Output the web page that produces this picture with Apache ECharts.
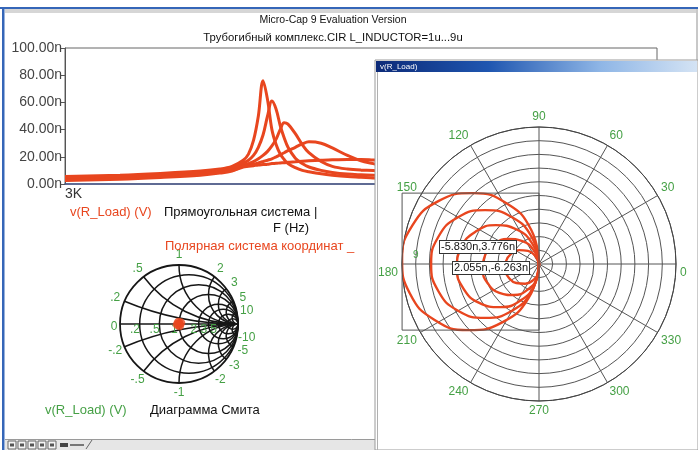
<!DOCTYPE html>
<html><head><meta charset="utf-8"><title>Micro-Cap 9</title>
<script src="https://cdn.jsdelivr.net/npm/echarts@6/dist/echarts.min.js"></script>
<style>html,body{margin:0;padding:0;background:#fff;}#chart{width:698px;height:450px;}</style>
</head><body><div id="chart"></div>
<script>
// ---------------- data ----------------
const freqHz = [3000, 4600, 6300, 8600, 10000, 11000, 12000, 12500, 13000, 13500, 14000, 14500, 15000, 15500, 16000, 16500, 17000, 18000, 19000, 20000, 22000, 24000, 27000, 30000, 33000, 38000, 45000];
const seriesNames = ['L=1u', 'L=3u', 'L=5u', 'L=7u', 'L=9u'];
const vL1 = [5.5, 6.5, 7.8, 9.5, 11, 13, 17.5, 22, 32, 50, 76, 62, 40, 29, 22, 18, 15, 12, 10, 9, 7.5, 6.5, 5.5, 5, 4.5, 4, 3.5];
const vL3 = [4.8, 5.8, 7, 8.8, 10.3, 12, 15.5, 17.5, 21, 27, 36, 50, 61, 55, 43, 34, 27, 19, 15, 12.5, 10, 8.5, 7.3, 6.8, 6.5, 5.5, 4.8];
const vL5 = [4, 5, 6.2, 8, 9.5, 11, 14, 15, 16.5, 18.5, 21, 24, 28, 33, 40, 45, 44, 37, 29, 23, 16.5, 13, 11, 10.2, 10, 8.5, 7];
const vL7 = [3.2, 4.2, 5.5, 7.2, 8.7, 10, 13, 13.5, 14.5, 15.5, 16.5, 17.5, 18.5, 20, 21.5, 23, 24.5, 27, 29.5, 31, 30, 26.5, 21, 17, 15, 12, 9];
const vL9 = [2.5, 3.5, 4.8, 6.5, 8, 9.5, 12.5, 13, 13.5, 14, 14.3, 14.6, 15, 15.2, 15.5, 15.7, 16, 16.4, 16.8, 17.1, 17.5, 17.8, 18, 18, 17.6, 17, 16];

// polar curves: [radius (n), angle (deg)]
const polarC1 = [[0, 88], [20.7, 103], [40, 118], [56.6, 133], [69.3, 148], [77.3, 163], [80, 178], [77.3, 193], [69.3, 208], [56.6, 223], [40, 238], [20.7, 253], [0, 268]];
const polarC2 = [[0, 90], [16.3, 105], [31.5, 120], [44.5, 135], [54.6, 150], [60.9, 165], [63, 180], [60.9, 195], [54.6, 210], [44.5, 225], [31.5, 240], [16.3, 255], [0, 270]];
const polarC3 = [[0, 93], [12.4, 108], [24, 123], [33.9, 138], [41.6, 153], [46.4, 168], [48, 183], [46.4, 198], [41.6, 213], [33.9, 228], [24, 243], [12.4, 258], [0, 273]];
const polarC4 = [[0, 96], [8.5, 111], [16.5, 126], [23.3, 141], [28.6, 156], [31.9, 171], [33, 186], [31.9, 201], [28.6, 216], [23.3, 231], [16.5, 246], [8.5, 261], [0, 276]];
const polarC5 = [[0, 100], [5.2, 115], [10, 130], [14.1, 145], [17.3, 160], [19.3, 175], [20, 190], [19.3, 205], [17.3, 220], [14.1, 235], [10, 250], [5.2, 265], [0, 280]];
const polarCurves = [polarC1, polarC2, polarC3, polarC4, polarC5];
const cursorLabels = ['-5.830n,3.776n', '2.055n,-6.263n'];

// smith chart
const smithPoints = [[0, 0], [0.03, 0.02], [-0.03, -0.01], [0.01, -0.03], [-0.01, 0.03]];
const smithR = [0, 0.2, 0.5, 1, 2, 3, 5, 10];
const smithRLabels = ['0', '.2', '.5', '1', '2', '3', '5'];
const smithX = [0.2, 0.5, 1, 2, 3, 5, 10];
const smithXLabels = ['.2', '.5', '1', '2', '3', '5', '10'];

// ---------------- chart ----------------
const FONT = '"Liberation Sans", Arial, sans-serif';
const RED = '#e8461f';
const GREEN = '#45a045';
const chart = echarts.init(document.getElementById('chart'));

const lineSeries = [vL1, vL3, vL5, vL7, vL9].map((vals, i) => ({
  type: 'line', name: seriesNames[i], xAxisIndex: 0, yAxisIndex: 0,
  data: freqHz.map((f, j) => [f, vals[j]]),
  showSymbol: false, smooth: 0.35, lineStyle: { color: RED, width: 3 }, z: 2
}));
const polarSeries = polarCurves.map((c, i) => ({
  type: 'line', name: seriesNames[i] + ' polar', coordinateSystem: 'polar', polarIndex: 0,
  data: c, showSymbol: false, smooth: 0.5, lineStyle: { color: RED, width: 2.4 }, z: 12
}));
const smithSeries = {
  type: 'scatter', name: 'smith', xAxisIndex: 1, yAxisIndex: 1, data: smithPoints,
  symbolSize: 9, itemStyle: { color: RED }, z: 10
};

chart.setOption({
  animation: false,
  backgroundColor: '#ffffff',
  textStyle: { fontFamily: FONT },
  grid: [
    { left: 65, top: 48, right: 41, bottom: 266, show: true, borderColor: '#666', borderWidth: 1, backgroundColor: 'transparent' },
    { left: 120, top: 265, width: 118, height: 118, show: false }
  ],
  xAxis: [
    { type: 'log', gridIndex: 0, min: 3000, max: 300000, logBase: 10,
      axisLine: { lineStyle: { color: '#44548a', width: 1.5 } }, axisTick: { show: false }, splitLine: { show: false },
      axisLabel: { showMinLabel: true, showMaxLabel: false, formatter: v => (Math.abs(v - 3000) < 1 ? '3K' : ''), align: 'left', margin: 3, fontSize: 14, color: '#333', fontFamily: FONT } },
    { type: 'value', gridIndex: 1, min: -1, max: 1, show: false }
  ],
  yAxis: [
    { type: 'value', gridIndex: 0, min: 0, max: 100, interval: 20,
      axisLine: { show: true, lineStyle: { color: '#555' } }, axisTick: { show: true, length: 4, lineStyle: { color: '#555' } },
      splitLine: { show: false },
      axisLabel: { formatter: v => v.toFixed(2) + 'n', fontSize: 14, color: '#444', margin: 3, fontFamily: FONT } },
    { type: 'value', gridIndex: 1, min: -1, max: 1, show: false }
  ],
  polar: { center: [539, 264], radius: 137 },
  angleAxis: {
    type: 'value', min: 0, max: 360, interval: 30, startAngle: 0, clockwise: false, z: 11,
    axisLine: { lineStyle: { color: '#444', width: 1 } }, axisTick: { show: false },
    axisLabel: { color: GREEN, fontSize: 12, margin: 4, fontFamily: FONT,
      formatter: v => (v >= 360 ? '' : (v === 0 || v === 180) ? '{low|' + v + '}' : String(v)),
      rich: { low: { color: GREEN, fontSize: 12, fontFamily: FONT, padding: [18, 0, 0, 0] } } },
    splitLine: { show: true, lineStyle: { color: '#555', width: 1 } }
  },
  radiusAxis: {
    type: 'value', min: 0, max: 80, interval: 8, z: 11,
    axisLine: { show: false }, axisTick: { show: false }, axisLabel: { show: false },
    splitLine: { show: true, lineStyle: { color: '#555', width: 1 } }
  },
  series: [...lineSeries, ...polarSeries, smithSeries]
});

// ---------------- graphics ----------------
const g = [];
function txt(text, x, y, opts) {
  opts = opts || {};
  g.push({ type: 'text', z: opts.z || 20, silent: true, style: Object.assign({
    text: text, x: x, y: y, fill: opts.fill || '#111', font: (opts.size || 12) + 'px ' + FONT,
    align: opts.align || 'left', textAlign: opts.align || 'left',
    verticalAlign: 'middle', textVerticalAlign: 'middle'
  }, opts.extra || {}) });
}
// outer frame
g.push({ type: 'rect', z: 1, silent: true, shape: { x: 0, y: 7, width: 698, height: 2 }, style: { fill: '#3566b8' } });
g.push({ type: 'rect', z: 1, silent: true, shape: { x: 5, y: 9, width: 693, height: 4 }, style: { fill: '#d6d6d6' } });
g.push({ type: 'rect', z: 1, silent: true, shape: { x: 2, y: 7, width: 2.5, height: 443 }, style: { fill: '#3566b8' } });
g.push({ type: 'rect', z: 1, silent: true, shape: { x: 696, y: 9, width: 2, height: 441 }, style: { fill: '#c8c8c8' } });
// bottom toolbar
g.push({ type: 'rect', z: 1, silent: true, shape: { x: 5, y: 439, width: 693, height: 11 }, style: { fill: '#e6e6e6' } });
g.push({ type: 'line', z: 1, silent: true, shape: { x1: 5, y1: 439.5, x2: 698, y2: 439.5 }, style: { stroke: '#9a9a9a', lineWidth: 1 } });
for (let i = 0; i < 5; i++) {
  g.push({ type: 'rect', z: 1, silent: true, shape: { x: 8 + i * 10, y: 441, width: 8, height: 8 }, style: { fill: '#f4f4f4', stroke: '#666', lineWidth: 1 } });
  g.push({ type: 'rect', z: 1, silent: true, shape: { x: 10 + i * 10, y: 443.5, width: 4, height: 3 }, style: { fill: '#555' } });
}
g.push({ type: 'rect', z: 1, silent: true, shape: { x: 60, y: 443, width: 8, height: 4 }, style: { fill: '#444' } });
g.push({ type: 'rect', z: 1, silent: true, shape: { x: 70, y: 444, width: 14, height: 2 }, style: { fill: '#777' } });
g.push({ type: 'line', z: 1, silent: true, shape: { x1: 86, y1: 449, x2: 92, y2: 440 }, style: { stroke: '#666', lineWidth: 1 } });

// titles & left labels
txt('Micro-Cap 9 Evaluation Version', 333, 20, { align: 'center', size: 10.5 });
txt('Трубогибный комплекс.CIR L_INDUCTOR=1u...9u', 333, 38, { align: 'center', size: 11.3 });
txt('v(R_Load) (V)', 70, 212, { fill: RED, size: 13 });
txt('Прямоугольная система |', 164, 212, { size: 13 });
txt('F (Hz)', 273, 228, { size: 13 });
txt('Полярная система координат _', 165, 246, { fill: RED, size: 13 });
txt('v(R_Load) (V)', 45, 410, { fill: GREEN, size: 13 });
txt('Диаграмма Смита', 150, 410, { size: 13 });

// polar window
g.push({ type: 'rect', z: 5, silent: true, shape: { x: 375, y: 60, width: 323, height: 390 }, style: { fill: '#ffffff', stroke: '#9a9a9a', lineWidth: 1 } });
g.push({ type: 'rect', z: 6, silent: true, shape: { x: 376, y: 61, width: 321, height: 11 },
  style: { fill: new echarts.graphic.LinearGradient(0, 0, 1, 0, [
    { offset: 0, color: '#0c2a78' }, { offset: 0.35, color: '#1f56b0' }, { offset: 0.7, color: '#8fb6e6' }, { offset: 1, color: '#d4e3f4' }]) } });
g.push({ type: 'line', z: 6, silent: true, shape: { x1: 377.5, y1: 72, x2: 377.5, y2: 450 }, style: { stroke: '#b0b0b0', lineWidth: 1 } });
txt('v(R_Load)', 380, 66.5, { fill: '#ffffff', size: 8, z: 7 });

// smith chart grid
const sp = (x, y) => chart.convertToPixel({ xAxisIndex: 1, yAxisIndex: 1 }, [x, y]);
const c0 = sp(0, 0);
const unit = sp(1, 0)[0] - c0[0];
const SK = '#161616';
const SW = 1.5;
smithR.forEach(r => {
  const c = sp(r / (1 + r), 0);
  g.push({ type: 'circle', z: 3, silent: true, shape: { cx: c[0], cy: c[1], r: unit / (1 + r) }, style: { fill: 'none', stroke: SK, lineWidth: r === 0 ? 1.8 : SW } });
});
const a1 = sp(-1, 0), a2 = sp(1, 0);
g.push({ type: 'line', z: 3, silent: true, shape: { x1: a1[0], y1: a1[1], x2: a2[0], y2: a2[1] }, style: { stroke: SK, lineWidth: SW } });
smithX.forEach((x, i) => {
  const c = sp(1, 1 / x), R = unit / x;
  const ex = (x * x - 1) / (x * x + 1), ey = 2 * x / (x * x + 1);
  const e = sp(ex, ey);
  let a = Math.atan2(e[1] - c[1], e[0] - c[0]);
  if (a < Math.PI / 2) a += 2 * Math.PI;
  g.push({ type: 'arc', z: 3, silent: true, shape: { cx: c[0], cy: c[1], r: R, startAngle: Math.PI / 2, endAngle: a, clockwise: true }, style: { fill: 'none', stroke: SK, lineWidth: SW } });
  const c2 = sp(1, -1 / x);
  g.push({ type: 'arc', z: 3, silent: true, shape: { cx: c2[0], cy: c2[1], r: R, startAngle: 2 * Math.PI - a, endAngle: 1.5 * Math.PI, clockwise: true }, style: { fill: 'none', stroke: SK, lineWidth: SW } });
  const k = 1.17;
  const lp = sp(ex * k, ey * k), ln = sp(ex * k, -ey * k);
  txt(smithXLabels[i], lp[0], lp[1], { fill: GREEN, size: 12, align: 'center', z: 4 });
  txt('-' + smithXLabels[i], ln[0], ln[1], { fill: GREEN, size: 12, align: 'center', z: 4 });
});
smithRLabels.forEach((lab, i) => {
  const r = smithR[i];
  const xc = (r - 1) / (r + 1);
  const p = r === 0 ? sp(-1.1, -0.05) : sp(xc - 0.08, -0.1);
  txt(lab, p[0], p[1], { fill: GREEN, size: 12, align: 'center', z: 4 });
});

// polar annotations: bounding box of data and cursor readouts
const pp = (x, y) => {
  const r = Math.hypot(x, y);
  const ang = (Math.atan2(y, x) * 180 / Math.PI + 360) % 360;
  return chart.convertToPixel({ polarIndex: 0 }, [r, ang]);
};
let minX = Infinity, maxX = -Infinity, minY = Infinity, maxY = -Infinity;
polarCurves.forEach(c => c.forEach(([r, a]) => {
  const t = a * Math.PI / 180, x = r * Math.cos(t), y = r * Math.sin(t);
  minX = Math.min(minX, x); maxX = Math.max(maxX, x); minY = Math.min(minY, y); maxY = Math.max(maxY, y);
}));
const tl = pp(minX, maxY), br = pp(maxX + 0.01, minY);
g.push({ type: 'rect', z: 13, silent: true, shape: { x: tl[0], y: tl[1], width: br[0] - tl[0], height: br[1] - tl[1] }, style: { fill: 'none', stroke: '#555', lineWidth: 1 } });
const pc = pp(0.001, 0);
txt(cursorLabels[0], pc[0] - 99, pc[1] - 17, { size: 11, z: 20, extra: { backgroundColor: '#ffffff', borderColor: '#333', borderWidth: 1, padding: [1, 1, 0, 1] } });
txt(cursorLabels[1], pc[0] - 86, pc[1] + 4, { size: 11, z: 20, extra: { backgroundColor: '#ffffff', borderColor: '#333', borderWidth: 1, padding: [1, 1, 0, 1] } });
txt('9', pc[0] - 126, pc[1] - 9, { fill: GREEN, size: 10, z: 20 });

chart.setOption({ graphic: { elements: g } });
</script></body></html>
